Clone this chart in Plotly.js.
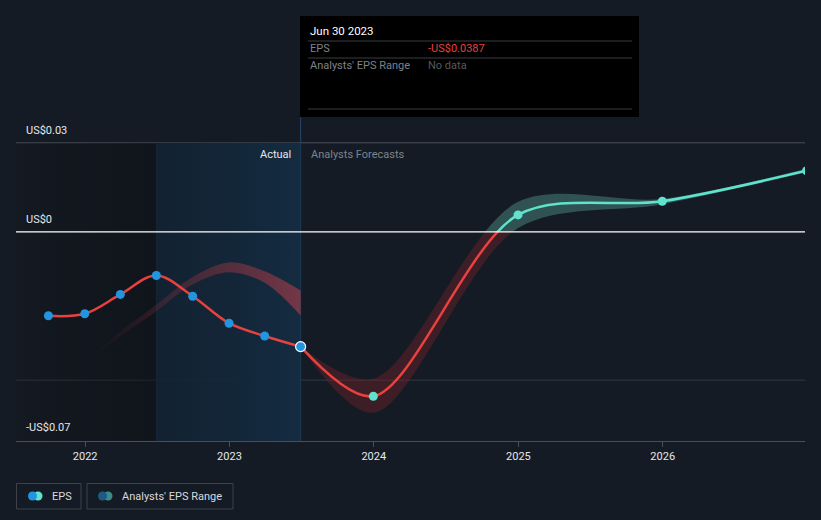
<!DOCTYPE html>
<html>
<head>
<meta charset="utf-8">
<script src="https://cdn.plot.ly/plotly-3.0.1.min.js"></script>
<style>
html,body{margin:0;padding:0;background:#151b24;}
#chart{width:821px;height:520px;}
</style>
</head>
<body>
<div id="chart"></div>
<script>
// ---- data ----
var actualDates = ['2021-09-30','2021-12-31','2022-03-31','2022-06-30','2022-09-30','2022-12-31','2023-03-31','2023-06-30'];
var actualEPS   = [-0.0283,-0.0276,-0.0211,-0.0147,-0.0217,-0.0308,-0.0351,-0.0387];

var forecastDates = ['2023-06-30','2023-12-31','2024-12-31','2025-12-31','2026-12-31'];
var forecastEPS   = [-0.0387,-0.0554,0.0057,0.0103,0.0206];
var forecastLow   = [-0.0387,-0.0610,0.0013,0.0093,0.0200];
var forecastHigh  = [-0.0387,-0.0495,0.0101,0.0111,0.0213];

var pastRangeDates = ['2022-01-20','2022-03-31','2022-06-30','2022-09-30','2022-12-31','2023-03-31','2023-06-30'];
var pastRangeHigh  = [-0.0418,-0.0336,-0.0246,-0.0152,-0.0103,-0.0133,-0.0198];
var pastRangeLow   = [-0.0422,-0.0352,-0.0268,-0.0177,-0.0136,-0.0172,-0.0282];

var yTickVals   = [0.03, 0, -0.07];
var yTickLabels = ['US$0.03','US$0','-US$0.07'];
var xTickVals   = ['2022-01-01','2023-01-01','2024-01-01','2025-01-01','2026-01-01'];
var xTickLabels = ['2022','2023','2024','2025','2026'];

var pastStart = '2021-07-10', actualStart = '2022-06-30', forecastStart = '2023-06-30', xEnd = '2026-12-27';

// ---- styling ----
var yMin = -0.0705, yMax = 0.0387;
var f = (0 - yMin) / (yMax - yMin);
var RED = '#e8413e', TEAL = '#5fe3cc', BLUE = '#2394df';
var L = 16, R = 805, T = 117, B = 441;
function px(x){ return (x - L) / (R - L); }
function py(y){ return (B - y) / (B - T); }
var SM = 0.9;

var traces = [];
// dark past region (gradient)
traces.push({x:[pastStart, actualStart, actualStart, pastStart], y:[0.03,0.03,yMin,yMin],
  xaxis:'x', yaxis:'y', mode:'lines', line:{width:0}, fill:'toself', hoverinfo:'skip', showlegend:false,
  fillcolor:'rgba(10,12,16,0.3)',
  fillgradient:{type:'horizontal', colorscale:[[0,'rgba(10,12,16,0.12)'],[1,'rgba(10,12,16,0.45)']]}});
// shaded "actual" region with gradient
traces.push({x:[actualStart, forecastStart, forecastStart, actualStart], y:[0.03,0.03,yMin,yMin],
  xaxis:'x', yaxis:'y', mode:'lines', line:{width:0}, fill:'toself', hoverinfo:'skip', showlegend:false,
  fillcolor:'rgba(20,40,60,0.6)',
  fillgradient:{type:'horizontal', colorscale:[[0,'rgba(18,34,50,0.9)'],[1,'rgba(20,44,66,0.95)']]}});
// past analyst range band
traces.push({x:pastRangeDates, y:pastRangeLow, xaxis:'x', yaxis:'y3', mode:'lines', line:{width:0, shape:'spline'}, hoverinfo:'skip', showlegend:false});
traces.push({x:pastRangeDates, y:pastRangeHigh, xaxis:'x', yaxis:'y3', mode:'lines', line:{width:0, shape:'spline'}, fill:'tonexty', hoverinfo:'skip', showlegend:false,
  fillcolor:'rgba(130,50,62,0.7)',
  fillgradient:{type:'horizontal', colorscale:[[0,'rgba(110,40,50,0)'],[0.45,'rgba(125,48,60,0.45)'],[1,'rgba(140,58,72,0.8)']]}});
// forecast band: negative part (red, y3) and positive part (teal, y2)
['y3','y2'].forEach(function(ax){
  var col = ax === 'y3' ? 'rgba(110,35,42,0.45)' : 'rgba(85,160,150,0.42)';
  traces.push({x:forecastDates, y:forecastLow, xaxis:'x', yaxis:ax, mode:'lines', line:{width:0, shape:'spline', smoothing:SM}, hoverinfo:'skip', showlegend:false});
  traces.push({x:forecastDates, y:forecastHigh, xaxis:'x', yaxis:ax, mode:'lines', line:{width:0, shape:'spline', smoothing:SM}, fill:'tonexty', fillcolor:col, hoverinfo:'skip', showlegend:false});
});
// actual line
traces.push({x:actualDates, y:actualEPS, xaxis:'x', yaxis:'y3', mode:'lines', line:{color:RED, width:2.5, shape:'spline'}, hoverinfo:'skip', showlegend:false});
// forecast line split by sign
traces.push({x:forecastDates, y:forecastEPS, xaxis:'x', yaxis:'y3', mode:'lines', line:{color:RED, width:2.5, shape:'spline', smoothing:SM}, hoverinfo:'skip', showlegend:false});
traces.push({x:forecastDates, y:forecastEPS, xaxis:'x', yaxis:'y2', mode:'lines', line:{color:TEAL, width:2.5, shape:'spline', smoothing:SM}, hoverinfo:'skip', showlegend:false});
// markers
traces.push({x:actualDates.slice(0,-1), y:actualEPS.slice(0,-1), xaxis:'x', yaxis:'y3', mode:'markers', cliponaxis:false, marker:{color:BLUE, size:9}, hoverinfo:'skip', showlegend:false});
traces.push({x:actualDates.slice(-1), y:actualEPS.slice(-1), xaxis:'x', yaxis:'y3', mode:'markers', cliponaxis:false, marker:{color:BLUE, size:10, line:{color:'#ffffff', width:1.2}}, hoverinfo:'skip', showlegend:false});
var fNegX = [], fNegY = [], fPosX = [], fPosY = [];
forecastDates.forEach(function(d,i){
  if (i === 0) return;
  if (forecastEPS[i] < 0) { fNegX.push(d); fNegY.push(forecastEPS[i]); }
  else { fPosX.push(d); fPosY.push(forecastEPS[i]); }
});
traces.push({x:fNegX, y:fNegY, xaxis:'x', yaxis:'y3', mode:'markers', cliponaxis:false, marker:{color:TEAL, size:9}, hoverinfo:'skip', showlegend:false});
traces.push({x:fPosX, y:fPosY, xaxis:'x', yaxis:'y2', mode:'markers', cliponaxis:true, marker:{color:TEAL, size:9}, hoverinfo:'skip', showlegend:false});

var shapes = [
  // gridlines
  {type:'line', xref:'paper', yref:'y', x0:0, x1:1, y0:0.03, y1:0.03, line:{color:'#4a4f57', width:1}, layer:'below'},
  {type:'line', xref:'paper', yref:'y', x0:0, x1:1, y0:-0.05, y1:-0.05, line:{color:'#333942', width:1}, layer:'below'},
  {type:'line', xref:'paper', yref:'y', x0:0, x1:1, y0:0, y1:0, line:{color:'#ffffff', width:1.2}},
  // region borders
  {type:'line', xref:'x', yref:'y', x0:actualStart, x1:actualStart, y0:yMin, y1:0.03, line:{color:'#1c3347', width:1}, layer:'below'},
  // hover line
  {type:'line', xref:'x', yref:'paper', x0:forecastStart, x1:forecastStart, y0:0, y1:1, line:{color:'#24476a', width:1}, layer:'below'},
  // tooltip
  {type:'rect', xref:'paper', yref:'paper', x0:px(300), x1:px(639), y0:py(117), y1:py(16), fillcolor:'#000000', line:{width:0}},
  {type:'line', xref:'paper', yref:'paper', x0:px(308), x1:px(632), y0:py(41), y1:py(41), line:{color:'#3a3d42', width:1}},
  {type:'line', xref:'paper', yref:'paper', x0:px(308), x1:px(632), y0:py(58), y1:py(58), line:{color:'#3a3d42', width:1}},
  {type:'line', xref:'paper', yref:'paper', x0:px(308), x1:px(632), y0:py(109), y1:py(109), line:{color:'#3a3d42', width:1}},
  // legend boxes
  {type:'rect', xref:'paper', yref:'paper', x0:px(16.5), x1:px(81), y0:py(509), y1:py(483.5), line:{color:'#3d424a', width:1}, fillcolor:'rgba(0,0,0,0)'},
  {type:'rect', xref:'paper', yref:'paper', x0:px(87), x1:px(233), y0:py(509), y1:py(483.5), line:{color:'#3d424a', width:1}, fillcolor:'rgba(0,0,0,0)'},
  {type:'circle', xref:'paper', yref:'paper', x0:px(33.5), x1:px(42.5), y0:py(500.5), y1:py(491.5), fillcolor:TEAL, line:{width:0}},
  {type:'circle', xref:'paper', yref:'paper', x0:px(28), x1:px(37), y0:py(500.5), y1:py(491.5), fillcolor:BLUE, line:{width:0}},
  {type:'circle', xref:'paper', yref:'paper', x0:px(103.5), x1:px(112.5), y0:py(500.5), y1:py(491.5), fillcolor:'#3b8c88', line:{width:0}},
  {type:'circle', xref:'paper', yref:'paper', x0:px(98), x1:px(107), y0:py(500.5), y1:py(491.5), fillcolor:'#1f5a82', line:{width:0}}
];

var FONT = 'Roboto, "Open Sans", sans-serif';
var annotations = [];
yTickVals.forEach(function(v,i){
  annotations.push({xref:'paper', yref:'y', x:px(24), y:v, yshift:12, text:yTickLabels[i], showarrow:false, xanchor:'left', yanchor:'middle', font:{family:FONT, size:11, color:'#e6e8ea'}});
});
annotations.push({xref:'x', yref:'paper', x:forecastStart, xshift:-8, y:py(154), text:'Actual', showarrow:false, xanchor:'right', yanchor:'middle', font:{family:FONT, size:11, color:'#e6e8ea'}});
annotations.push({xref:'x', yref:'paper', x:forecastStart, xshift:8, y:py(154), text:'Analysts Forecasts', showarrow:false, xanchor:'left', yanchor:'middle', font:{family:FONT, size:11, color:'#7d838b'}});
// tooltip text
annotations.push({xref:'paper', yref:'paper', x:px(308), y:py(31), text:'Jun 30 2023', showarrow:false, xanchor:'left', yanchor:'middle', font:{family:FONT, size:11.5, color:'#ffffff'}});
annotations.push({xref:'paper', yref:'paper', x:px(308), y:py(49), text:'EPS', showarrow:false, xanchor:'left', yanchor:'middle', font:{family:FONT, size:11, color:'#7d828a'}});
annotations.push({xref:'paper', yref:'paper', x:px(426), y:py(49), text:'-US$0.0387', showarrow:false, xanchor:'left', yanchor:'middle', font:{family:FONT, size:11, color:'#e3403f'}});
annotations.push({xref:'paper', yref:'paper', x:px(308), y:py(66), text:"Analysts' EPS Range", showarrow:false, xanchor:'left', yanchor:'middle', font:{family:FONT, size:11, color:'#7d828a'}});
annotations.push({xref:'paper', yref:'paper', x:px(426), y:py(66), text:'No data', showarrow:false, xanchor:'left', yanchor:'middle', font:{family:FONT, size:11, color:'#55595f'}});
// legend text
annotations.push({xref:'paper', yref:'paper', x:px(50), y:py(496), text:'EPS', showarrow:false, xanchor:'left', yanchor:'middle', font:{family:FONT, size:11, color:'#d8dadd'}});
annotations.push({xref:'paper', yref:'paper', x:px(120), y:py(496), text:"Analysts' EPS Range", showarrow:false, xanchor:'left', yanchor:'middle', font:{family:FONT, size:11, color:'#d8dadd'}});

var layout = {
  width:821, height:520,
  margin:{l:L, r:821-R, t:T, b:520-B, pad:0},
  paper_bgcolor:'#151b24', plot_bgcolor:'rgba(0,0,0,0)',
  showlegend:false,
  hovermode:false,
  font:{family:FONT, color:'#e6e8ea', size:11},
  xaxis:{type:'date', range:[pastStart, xEnd], showgrid:false, zeroline:false,
    tickvals:xTickVals, ticktext:xTickLabels, ticks:'outside', ticklen:5, tickcolor:'#4a4f57',
    showline:true, linecolor:'#4a4f57', linewidth:1, tickfont:{family:FONT, size:11, color:'#e6e8ea'}, fixedrange:true},
  yaxis:{range:[yMin, yMax], visible:false, fixedrange:true},
  yaxis2:{range:[0, yMax], domain:[f, 1], anchor:'x', visible:false, fixedrange:true},
  yaxis3:{range:[yMin, 0], domain:[0, f], anchor:'x', visible:false, fixedrange:true},
  shapes:shapes,
  annotations:annotations
};

Plotly.newPlot('chart', traces, layout, {displayModeBar:false, staticPlot:true});
</script>
</body>
</html>
